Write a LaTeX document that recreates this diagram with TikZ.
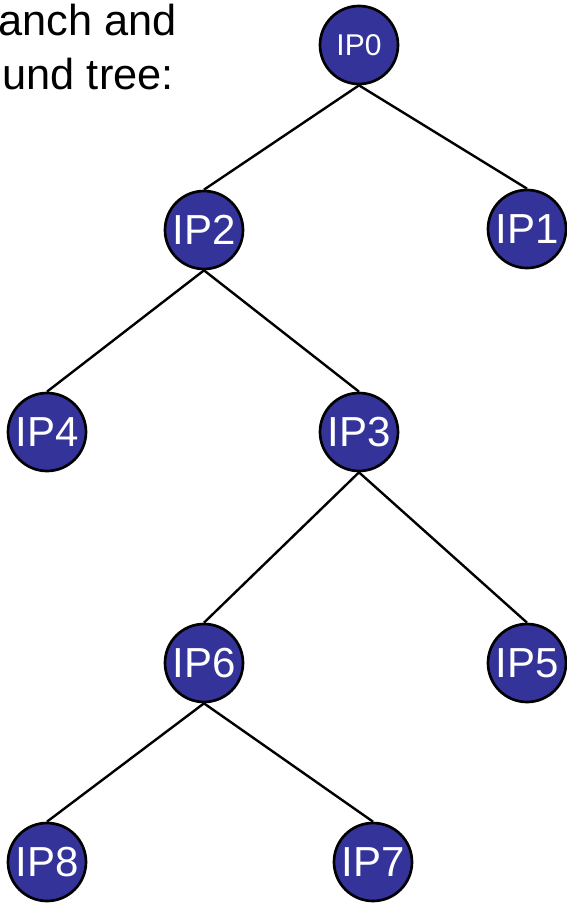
\documentclass[tikz,border=0pt]{standalone}
\usepackage{fontspec}
\setmainfont{Liberation Sans}
\definecolor{ipblue}{HTML}{333399}
\begin{document}
\begin{tikzpicture}[x=0.75pt,y=-0.75pt,
  ipnode/.style={circle,draw=black,line width=2pt,fill=ipblue,text=white,
    minimum size=58.5pt,inner sep=0pt,font=\fontsize{31.5}{31.5}\selectfont},
  rootnode/.style={ipnode,font=\fontsize{22.5}{22.5}\selectfont},
  edge/.style={line width=1.8pt,black},
  caption/.style={anchor=base east,inner sep=0pt,font=\fontsize{32.5}{32.5}\selectfont}]
  \useasboundingbox (0,0) rectangle (567,904);
  % heading text
  \node[caption] (cap1) at (177,35) {anch and};
  \node[caption] (cap2) at (174,89) {und tree:};
  % tree nodes
  \node[rootnode] (ip0) at (359,45) {IP0};
  \node[ipnode] (ip2) at (204,230) {IP2};
  \node[ipnode] (ip1) at (527,229) {IP1};
  \node[ipnode] (ip4) at (47,432) {IP4};
  \node[ipnode] (ip3) at (359,432) {IP3};
  \node[ipnode] (ip6) at (204,663) {IP6};
  \node[ipnode] (ip5) at (527,663) {IP5};
  \node[ipnode] (ip8) at (47,862) {IP8};
  \node[ipnode] (ip7) at (373,862) {IP7};
  % edges from parent bottom to child top
  \draw[edge] (ip0.south) -- (ip2.north);
  \draw[edge] (ip0.south) -- (ip1.north);
  \draw[edge] (ip2.south) -- (ip4.north);
  \draw[edge] (ip2.south) -- (ip3.north);
  \draw[edge] (ip3.south) -- (ip6.north);
  \draw[edge] (ip3.south) -- (ip5.north);
  \draw[edge] (ip6.south) -- (ip8.north);
  \draw[edge] (ip6.south) -- (ip7.north);
\end{tikzpicture}
\end{document}
